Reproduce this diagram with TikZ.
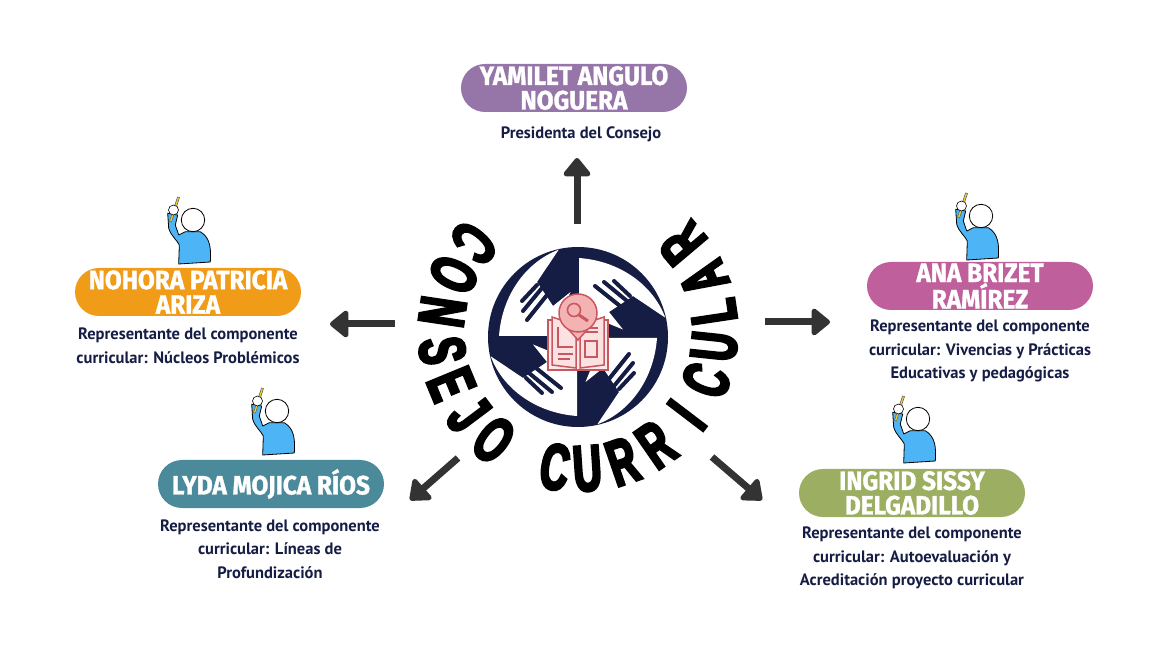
\documentclass[tikz,border=0pt]{standalone}
\usepackage{fontspec}
\usetikzlibrary{arrows.meta,calc}
\setmainfont{PT Sans}
\newfontfamily\namefont[FakeStretch=.92,FakeBold=1.2]{Fira Sans Bold}
\newfontfamily\archfont[FakeStretch=.6,FakeBold=4]{Liberation Sans Bold}
\definecolor{navy}{HTML}{161D45}
\definecolor{arrowgray}{HTML}{333333}
\definecolor{skin}{HTML}{4DB5F5}
\definecolor{bookred}{HTML}{C8585F}
\definecolor{lenspink}{HTML}{F4B3B3}
\tikzset{
	pill/.style={rounded corners=24pt,minimum width=226pt,minimum height=48pt,inner sep=0pt,align=center,text=white,font=\namefont\fontsize{26.5}{24.5}\selectfont},
	role/.style={align=center,text=navy,inner sep=0pt,font=\bfseries\fontsize{16.5}{23.5}\selectfont},
	flow/.style={arrowgray,line width=7pt,-{Triangle[length=20pt,width=31pt,round]}},
	letter/.style={inner sep=0pt,font=\archfont\fontsize{65}{65}\selectfont},
	bookline/.style={bookred,line width=1.5pt},
	person/.pic={
		\draw[fill=skin,line width=.8pt,line join=round] (-14.3,-44) -- (17.3,-42) .. controls (18,-30) and (18,-18) .. (7.3,-11.7) -- (-7.7,-11.7) -- (-14.3,-15) -- (-17.7,-5) -- (-15.3,5) -- (-25.3,6.7) -- (-24.3,-8.3) .. controls (-22,-16) and (-16,-20) .. (-13.7,-25) -- cycle;
		\draw[draw=black!60,fill=yellow!70!brown,line width=.6pt] (-15.5,23) -- (-13.5,22.5) -- (-21.5,-2) -- (-23.5,-1.5) -- cycle;
		\draw[fill=white,line width=.6pt] (-19.5,10) circle (5);
		\draw[fill=white,line width=.8pt] (0,0) circle (11.7);
	}
}
\begin{document}
\begin{tikzpicture}[x=1pt,y=1pt]
	\useasboundingbox (0,0) rectangle (1153,648);
	\node[circle,fill=navy,minimum size=180pt,inner sep=0pt] (logo) at (578,311) {};
	\foreach \r in {0,90,180,270}{
		\begin{scope}[shift={(logo.center)},rotate=\r]
			\fill[white,line join=round] (87.3,19.3) .. controls (75,52) and (42,76) .. (1,79) -- (1,25) -- (12,21) -- (45,7.5) -- (31,25) -- (55,41) -- cycle;
			\foreach \ax/\ay/\bx/\by in {17/51/42/31,26/55/49/36,36/56/52/41}
				\draw[navy,line width=4pt,line cap=round] (\ax,\ay) -- (\bx,\by);
		\end{scope}
	}
	\begin{scope}[shift={(logo.center)}]
		\draw[bookline,fill=lenspink!30] (-30,17) rectangle (30,-33);
		\draw[bookline,fill=lenspink!40] (-26,20) -- (-26,-28) -- (-2,-31) -- (-2,12) -- cycle;
		\draw[bookline,fill=lenspink!40] (26,20) -- (26,-28) -- (2,-31) -- (2,12) -- cycle;
		\draw[bookline] (-20,10) -- (-20,-10) -- (-5,-10);
		\draw[bookline] (-20,-17) -- (-5,-17) (-20,-22) -- (-8,-22);
		\draw[bookline] (7,-4) rectangle (19,-20);
		\draw[bookline] (7,5) -- (20,5) (12,9) -- (20,9);
		\draw[bookline,fill=lenspink] (-9,7) -- (0,-3) -- (9,7) -- cycle;
		\draw[bookline,fill=lenspink] (0,24) circle (19);
		\draw[bookline,line width=1.6pt] (-4,27) circle (6.5);
		\draw[bookred,line width=3pt] (1,22) -- (10,16);
	\end{scope}
	\foreach \ch/\ang [count=\i] in {C/139.4,O/155.2,N/171.5,S/187.8,E/202.4,J/217,O/232,C/260.3,U/273.9,R/289,R/304.7,I/322.7,C/339.3,U/354,L/8.5,A/23,R/40.2}
		\node[letter,rotate=\ang+90] (arch\i) at ($(578,316)+(\ang:137)$) {\ch};
	\node[pill,fill={rgb,255:red,150;green,117;blue,168}] (yamilet) at (574,560) {YAMILET ANGULO\\NOGUERA};
	\node[pill,fill={rgb,255:red,240;green,156;blue,24}] (nohora) at (188,356) {NOHORA PATRICIA\\ARIZA};
	\node[pill,fill={rgb,255:red,191;green,95;blue,156}] (ana) at (980,362) {ANA BRIZET\\RAMÍREZ};
	\node[pill,fill={rgb,255:red,74;green,138;blue,155}] (lyda) at (271,164) {LYDA MOJICA RÍOS};
	\node[pill,fill={rgb,255:red,155;green,174;blue,97}] (ingrid) at (912,155) {INGRID SISSY\\DELGADILLO};
	\node[role] (yamiletrole) at (581,514) {Presidenta del Consejo};
	\node[role] (nohorarole) at (188,302) {Representante del componente\\curricular: Núcleos Problémicos};
	\node[role] (anarole) at (980,297) {Representante del componente\\curricular: Vivencias y Prácticas\\Educativas y pedagógicas};
	\node[role] (lydarole) at (270,99) {Representante del componente\\curricular: Líneas de\\Profundización};
	\node[role] (ingridrole) at (912,90) {Representante del componente\\curricular: Autoevaluación y\\Acreditación proyecto curricular};
	\foreach \p/\x/\y in {nohorapic/193/428,anapic/981/432,lydapic/277/237,ingridpic/918/229}
		\pic (\p) at (\x,\y) {person};
	\foreach \n/\ax/\ay/\bx/\by in {up/577/424/577/490,left/395/324/330/324,right/765/326/830/326,sw/458/190/410/148,se/712/191/762/148}{
		\coordinate (\n a) at (\ax,\ay);
		\coordinate (\n b) at (\bx,\by);
		\draw[flow] (\n a) -- (\n b);
	}
\end{tikzpicture}
\end{document}
